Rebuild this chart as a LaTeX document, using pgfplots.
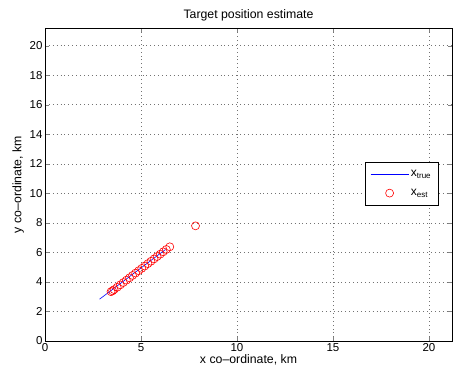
\documentclass[border=0pt]{standalone}
\usepackage{pgfplots}
\pgfplotsset{compat=1.18}
\usepackage{fontspec}
\setmainfont{Liberation Sans}
\pgfplotsset{
  lineleg/.style={legend image code/.code={\draw[##1] (0pt,0pt) -- (38pt,0pt);}},
  markleg/.style={legend image code/.code={\draw[mark repeat=2,mark phase=2,##1] plot coordinates {(0pt,0pt) (19pt,0pt) (38pt,0pt)};}},
}
\begin{document}
\begin{tikzpicture}[x=1pt,y=1pt]
\begin{axis}[
  at={(45pt,38pt)}, anchor=south west,
  scale only axis, width=407pt, height=313pt,
  xmin=0, xmax=21.2, ymin=0, ymax=21.2,
  xtick={0,5,10,15,20}, ytick={0,2,4,...,20},
  tick align=inside, major tick length=4pt,
  xtick pos=both, ytick pos=both,
  grid=major, major grid style={dash pattern=on 0.7pt off 3.2pt, black!55, line width=0.6pt},
  axis line style={line width=0.8pt},
  ticklabel style={font=\fontsize{11.5}{12}\selectfont},
  xticklabel style={yshift=1pt}, yticklabel style={xshift=1pt},
  /pgf/number format/assume math mode=true,
  title={Target position estimate}, title style={font=\fontsize{12.3}{13}\selectfont, yshift=-3pt},
  xlabel={x co--ordinate, km}, ylabel={y co--ordinate, km},
  label style={font=\fontsize{12.3}{13}\selectfont},
  xlabel style={yshift=4pt}, ylabel style={yshift=-1pt},
  legend style={at={(0.786,0.572)}, anchor=north west,
    font=\fontsize{12}{13}\selectfont, inner xsep=5pt, inner ysep=6pt, row sep=7pt,
    line width=0.8pt},
  legend cell align=left,
]
\addplot[draw=blue, color=blue, line width=0.6pt, lineleg] coordinates {(2.84,2.83) (6.28,6.2)};
\addlegendentry{x\textsubscript{true}}
\addplot[only marks, mark=o, red, mark size=4pt, line width=0.6pt, markleg] coordinates {
(3.44,3.34) (3.52,3.40) (3.60,3.48) (3.76,3.64) (3.92,3.80) (4.08,3.96)
(4.24,4.12) (4.40,4.28) (4.56,4.44) (4.72,4.60) (4.88,4.76) (5.04,4.92)
(5.20,5.08) (5.36,5.24) (5.52,5.40) (5.68,5.56) (5.84,5.72) (6.00,5.88)
(6.16,6.04) (6.32,6.20) (6.50,6.38) (7.84,7.80)};
\addlegendentry{x\textsubscript{est}}
\end{axis}
\path[use as bounding box] (0,0) rectangle (453pt,379pt);
\end{tikzpicture}
\end{document}
